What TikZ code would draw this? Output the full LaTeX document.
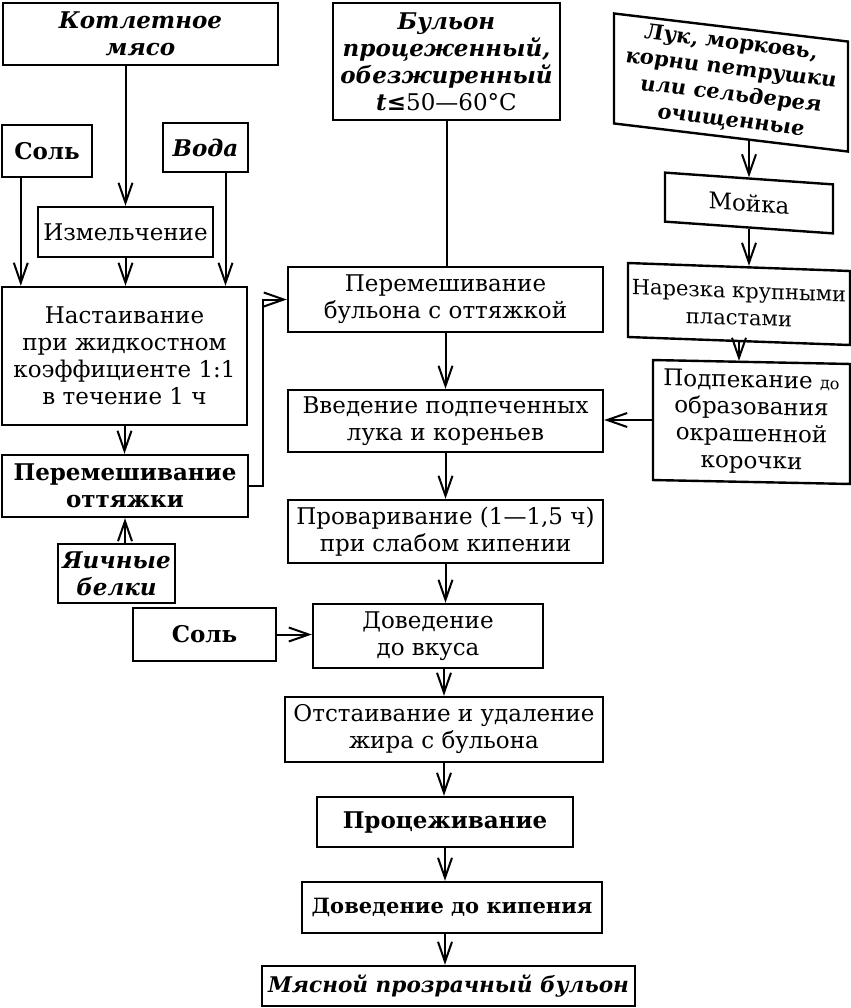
\documentclass[tikz,border=0pt]{standalone}
\usepackage{fontspec}
\setmainfont{DejaVu Serif}
\usepackage{tikz}
\usetikzlibrary{arrows.meta}

\begin{document}
\begin{tikzpicture}[x=0.5pt,y=-0.5pt,
        box/.style={draw, line width=1.2pt, align=center, inner sep=1pt, font=\fontsize{11.5}{13.5}\selectfont},
        bb/.style={box, font=\fontsize{11.5}{13.5}\selectfont\bfseries},
        bi/.style={box, font=\fontsize{11.5}{13.5}\selectfont\bfseries\itshape},
        wh/.style 2 args={minimum width=#1*0.5pt, minimum height=#2*0.5pt},
        link/.style={line width=1pt, -{Straight Barb[length=10pt,width=7pt]}}]
        \useasboundingbox (0,0) rectangle (851,1008);
        \node[bi,wh={275}{62}] (meat) at (140.5,34) {Котлетное\\мясо};
        \node[bi,wh={227}{117}] (broth) at (446.5,61.5) {Бульон\\процеженный,\\обезжиренный\\t≤{\upshape\mdseries 50—60°C}};
        \node[bi,wh={234}{110},yslant=-0.12,font=\fontsize{10.5}{13}\selectfont\bfseries\itshape] (veg) at (731,82.5) {Лук, морковь,\\корни петрушки\\или сельдерея\\очищенные};
        \node[bb,wh={90}{52}] (salt1) at (47,151) {Соль};
        \node[bi,wh={85}{49}] (water) at (205.5,147.5) {Вода};
        \node[box,wh={175}{50}] (grind) at (125.5,232) {Измельчение};
        \node[box,wh={245}{138}] (steep) at (124.5,356) {Настаивание\\при жидкостном\\коэффициенте 1:1\\в течение 1 ч};
        \node[bb,wh={246}{62}] (mixdraw) at (125,486) {Перемешивание\\оттяжки};
        \node[bi,wh={117}{59}] (whites) at (116.5,573.5) {Яичные\\белки};
        \node[box,wh={315}{65}] (mixbroth) at (445.5,299.5) {Перемешивание\\бульона с оттяжкой};
        \node[box,wh={315}{62}] (addveg) at (445.5,421) {Введение подпеченных\\лука и кореньев};
        \node[box,wh={315}{63}] (simmer) at (445.5,531.5) {Проваривание (1—1,5 ч)\\при слабом кипении};
        \node[bb,wh={143}{53}] (salt2) at (204.5,634.5) {Соль};
        \node[box,wh={230}{64}] (season) at (428,636) {Доведение\\до вкуса};
        \node[box,wh={318}{65}] (settle) at (444,729.5) {Отстаивание и удаление\\жира с бульона};
        \node[bb,wh={256}{50}] (strain) at (445,822) {Процеживание};
        \node[bb,wh={300}{51},font=\fontsize{10.5}{13}\selectfont\bfseries] (boil) at (452,907.5) {Доведение до кипения};
        \node[bi,wh={373}{40},font=\fontsize{10.8}{13}\selectfont\bfseries\itshape] (result) at (448.5,986) {Мясной прозрачный бульон};
        \node[box,wh={168}{49},yslant=-0.07] (wash) at (749,203) {Мойка};
        \node[box,wh={222}{74},yslant=-0.036,font=\fontsize{10.5}{13.5}\selectfont] (cut) at (739,304) {Нарезка крупными\\пластами};
        \node[box,wh={197}{120},yslant=-0.02] (bake) at (751.5,422) {Подпекание {\fontsize{8}{9}\selectfont до}\\образования\\окрашенной\\корочки};
        \draw[link] (meat.south -| grind.north) -- (grind.north);
        \draw[link] ([xshift=10pt]salt1.south west) -- ([xshift=10pt]salt1.south west |- steep.north);
        \draw[link] ([xshift=10pt]water.south) -- ([xshift=10pt]water.south |- steep.north);
        \draw[link] (grind.south) -- (grind.south |- steep.north);
        \draw[link] (steep.south) -- (steep.south |- mixdraw.north);
        \draw[link] (mixdraw.south |- whites.north) -- (mixdraw.south);
        \draw[link] (mixdraw.east) -- ++(7pt,0) |- (mixbroth.west);
        \draw[line width=1pt] (broth.south) -- (broth.south |- mixbroth.north);
        \draw[link] (mixbroth.south) -- (mixbroth.south |- addveg.north);
        \draw[link] (addveg.south) -- (addveg.south |- simmer.north);
        \draw[link] (simmer.south) -- (simmer.south |- season.north);
        \draw[link] (season.south -| settle.north) -- (settle.north);
        \draw[link] (settle.south) -- (settle.south |- strain.north);
        \draw[link] (strain.south) -- (strain.south |- boil.north);
        \draw[link] (strain.south |- boil.south) -- (strain.south |- result.north);
        \draw[link] (salt2.east) -- (salt2.east -| season.west);
        \draw[link] (wash.north |- veg.south) -- (wash.north);
        \draw[link] (wash.south) -- (wash.south |- cut.north);
        \draw[link] (cut.south) -- (cut.south |- bake.north);
        \draw[link] (bake.west) -- (bake.west -| addveg.east);
    \end{tikzpicture}
\end{document}
